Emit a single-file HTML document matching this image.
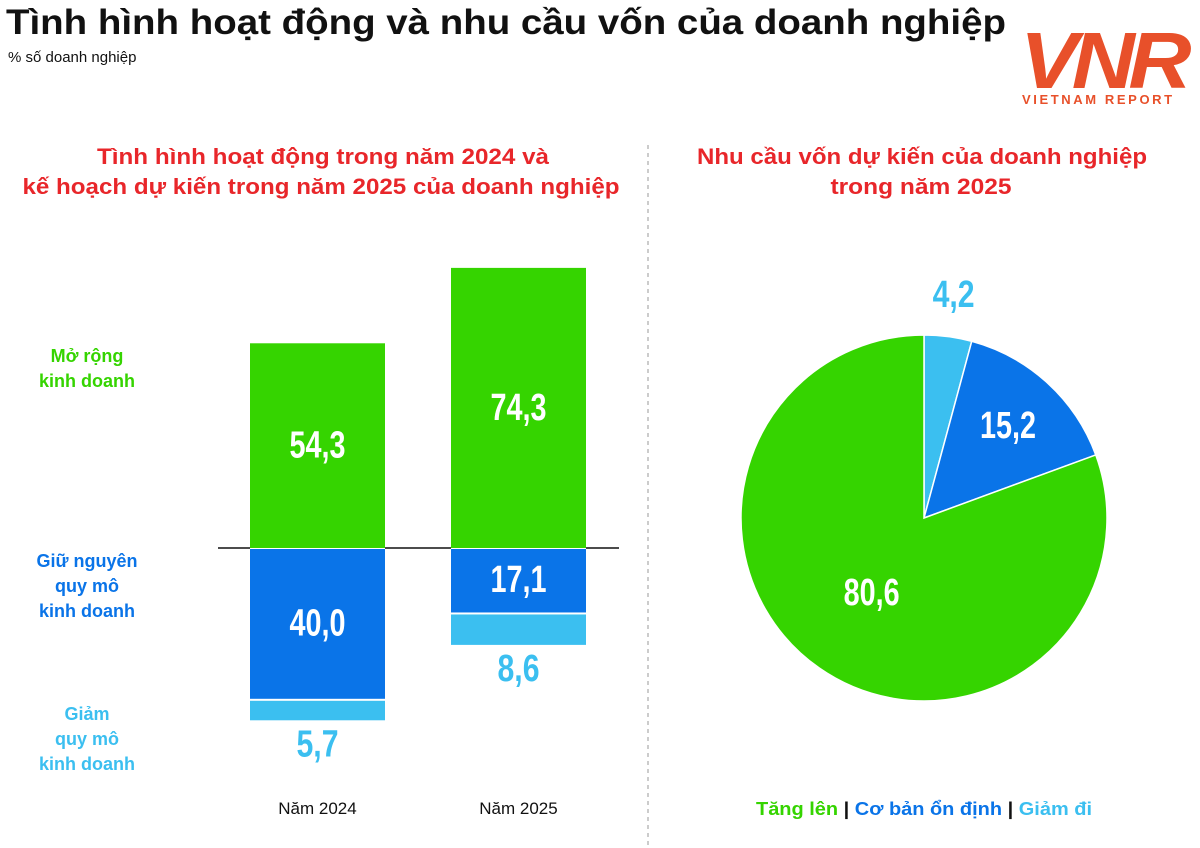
<!DOCTYPE html>
<html><head><meta charset="utf-8"><style>
body{margin:0;background:#fff;width:1200px;height:848px;overflow:hidden;font-family:"Liberation Sans",sans-serif}
svg{display:block}
</style></head><body>
<svg width="1200" height="848" xmlns="http://www.w3.org/2000/svg">
<text x="6" y="34" font-size="35" font-weight="bold" fill="#111" textLength="1000" lengthAdjust="spacingAndGlyphs">Tình hình hoạt động và nhu cầu vốn của doanh nghiệp</text>
<text x="8" y="62" font-size="15" fill="#111">% số doanh nghiệp</text>
<g>
<text x="1020" y="88" font-size="80" font-style="italic" font-weight="bold" fill="#e8502a" letter-spacing="-6" textLength="165" lengthAdjust="spacingAndGlyphs">VNR</text>
<text x="1022" y="104" font-size="13" font-weight="bold" fill="#e8502a" letter-spacing="2.6">VIETNAM REPORT</text>
</g>
<g font-size="22" font-weight="bold" fill="#e8262a" text-anchor="middle">
<text x="323" y="164" textLength="452" lengthAdjust="spacingAndGlyphs">Tình hình hoạt động trong năm 2024 và</text>
<text x="321" y="194" textLength="597" lengthAdjust="spacingAndGlyphs">kế hoạch dự kiến trong năm 2025 của doanh nghiệp</text>
<text x="922" y="164" textLength="450" lengthAdjust="spacingAndGlyphs">Nhu cầu vốn dự kiến của doanh nghiệp</text>
<text x="921" y="194" textLength="181" lengthAdjust="spacingAndGlyphs">trong năm 2025</text>
</g>
<line x1="648" y1="145" x2="648" y2="848" stroke="#999" stroke-dasharray="4,4"/>
<g font-size="18" font-weight="bold" text-anchor="middle">
<text x="87" y="362" fill="#35d400"><tspan x="87">Mở rộng</tspan><tspan x="87" dy="25">kinh doanh</tspan></text>
<text x="87" y="567" fill="#0a74e8"><tspan x="87">Giữ nguyên</tspan><tspan x="87" dy="25">quy mô</tspan><tspan x="87" dy="25">kinh doanh</tspan></text>
<text x="87" y="720" fill="#3bbff0"><tspan x="87">Giảm</tspan><tspan x="87" dy="25">quy mô</tspan><tspan x="87" dy="25">kinh doanh</tspan></text>
</g>
<g id="bars"></g>
<line x1="218" y1="548" x2="250" y2="548" stroke="#111" stroke-width="1.5"/>
<line x1="385" y1="548" x2="451" y2="548" stroke="#111" stroke-width="1.5"/>
<line x1="586" y1="548" x2="619" y2="548" stroke="#111" stroke-width="1.5"/>
<g id="pie"></g>
<text x="924" y="815" font-size="18" font-weight="bold" text-anchor="middle" textLength="336" lengthAdjust="spacingAndGlyphs"><tspan fill="#35d400">Tăng lên</tspan><tspan fill="#111"> | </tspan><tspan fill="#0a74e8">Cơ bản ổn định</tspan><tspan fill="#111"> | </tspan><tspan fill="#3bbff0">Giảm đi</tspan></text>
</svg>
<script>
const years=["Năm 2024","Năm 2025"];
const expand=[54.3,74.3];
const keep=[40.0,17.1];
const shrink=[5.7,8.6];
const pieLabels=["Giảm đi","Cơ bản ổn định","Tăng lên"];
const pieValues=[4.2,15.2,80.6];
const NS="http://www.w3.org/2000/svg";
const fmt=v=>v.toFixed(1).replace('.',',');
const base=548,k=3.77,bw=135,cx=[317.5,518.5];
const G="#35d400",B="#0a74e8",L="#3bbff0";
const FN='"Liberation Sans Narrow","Liberation Sans",sans-serif';
function el(t,a,p){const e=document.createElementNS(NS,t);for(const n in a)e.setAttribute(n,a[n]);p.appendChild(e);return e;}
const bars=document.getElementById('bars');
function lbl(x,y,txt,fill,p){const t=el('text',{x:x,y:y,'font-size':38,'font-weight':'bold','font-family':FN,fill:fill,'text-anchor':'middle','dominant-baseline':'central',textLength:txt.length*14,lengthAdjust:'spacingAndGlyphs'},p);t.textContent=txt;return t;}
years.forEach((yr,i)=>{
 const x=cx[i]-bw/2;
 const hE=expand[i]*k,hK=keep[i]*k,hS=shrink[i]*k;
 const r1=el('rect',{x:x,y:base-hE,width:bw,height:hE,fill:G},bars);
 
 
 const r2=el('rect',{x:x,y:base+1,width:bw,height:hK-1,fill:B},bars);
 
 
 const r3=el('rect',{x:x,y:base+hK+2,width:bw,height:hS-2,fill:L},bars);
 
 
 const t1=lbl(cx[i],base-hE/2,fmt(expand[i]),'#fff',bars);
 
 
 const t2=lbl(cx[i],base+hK/2,fmt(keep[i]),'#fff',bars);
 
 
 const t3=lbl(cx[i],base+hK+hS+24,fmt(shrink[i]),L,bars);
 
 
 const xl=el('text',{x:cx[i],y:814,'font-size':17,fill:'#111','text-anchor':'middle'},bars);
 xl.textContent=yr;
 
 
});
const pie=document.getElementById('pie');
const pcx=924,pcy=518,R=183,cols=[L,B,G],lr=[1.23,0.68,0.5],lcol=[L,'#fff','#fff'];
const tot=pieValues.reduce((a,b)=>a+b,0);
let a0=0;
pieValues.forEach((v,i)=>{
 const a1=a0+v/tot*2*Math.PI;
 const p=(a)=>[pcx+R*Math.sin(a),pcy-R*Math.cos(a)];
 const [x0,y0]=p(a0),[x1,y1]=p(a1);
 const s=el('path',{d:`M${pcx},${pcy}L${x0},${y0}A${R},${R} 0 ${a1-a0>Math.PI?1:0} 1 ${x1},${y1}Z`,fill:cols[i],stroke:'#fff','stroke-width':1.5},pie);
 
 
 const am=(a0+a1)/2;
 const t=lbl(pcx+R*lr[i]*Math.sin(am),pcy-R*lr[i]*Math.cos(am),fmt(v),lcol[i],pie);
 
 
 a0=a1;
});
</script>
</body></html>
